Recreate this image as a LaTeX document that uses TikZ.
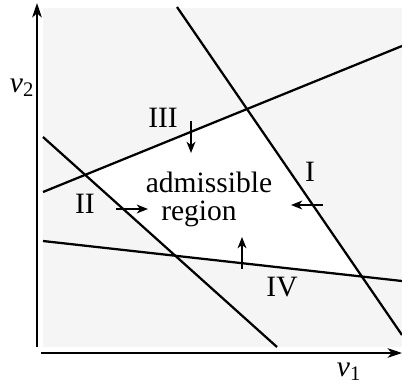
\documentclass[tikz,border=0pt]{standalone}
\usepackage{fontspec}
\setmainfont{Liberation Serif}
\usetikzlibrary{arrows.meta}
\usepackage{xcolor}
\definecolor{bgGray}{HTML}{F5F5F5}
\tikzset{
    constraint/.style={line width=1.6pt,draw=black},
    axis/.style={
        line width=1.4pt,-{Stealth[length=3.6mm,width=2.4mm,inset=1mm]}
    },
    push/.style={
        line width=1.2pt,-{Stealth[length=2.8mm,width=2.2mm,inset=0.8mm]}
    },
    lbl/.style={font=\fontsize{21}{25}\selectfont,inner sep=0pt,anchor=base}
}

\begin{document}
\begin{tikzpicture}[x=0.025cm,y=-0.025cm]

\useasboundingbox (0,0) rectangle (402,384);

% shaded plane
\fill[bgGray] (43,8) rectangle (402,347);

% ends of the four constraint lines
\coordinate (Ia) at (177,7);
\coordinate (Ib) at (402,335);
\coordinate (IIa) at (43,137);
\coordinate (IIb) at (277,347);
\coordinate (IIIa) at (43,192);
\coordinate (IIIb) at (402,46);
\coordinate (IVa) at (43,241);
\coordinate (IVb) at (402,281);

% admissible region
\fill[white]
(intersection of IIIa--IIIb and Ia--Ib) --
(intersection of Ia--Ib and IVa--IVb) --
(intersection of IVa--IVb and IIa--IIb) --
(intersection of IIa--IIb and IIIa--IIIb) -- cycle;

\draw[constraint](Ia)--(Ib);
\draw[constraint](IIa)--(IIb);
\draw[constraint](IIIa)--(IIIb);
\draw[constraint](IVa)--(IVb);

% axes
\coordinate (yfoot) at (37,347);
\coordinate (ytip) at (37,3);
\coordinate (xfoot) at (41,353);
\coordinate (xtip) at (402,353);
\draw[axis](yfoot)--(ytip);
\draw[axis](xfoot)--(xtip);

\node[lbl] (vtwo) at (22,92) {\textit{v}\textsubscript{2}};
\node[lbl] (vone) at (349,376) {\textit{v}\textsubscript{1}};

% constraint labels and arrows
\node[lbl] (labI) at (310,181) {I};
\node[lbl] (labII) at (85,213) {II};
\node[lbl] (labIII) at (163,127) {III};
\node[lbl] (labIV) at (282,296) {IV};

\coordinate (pIa) at (323,205);
\coordinate (pIb) at (291,205);
\coordinate (pIIa) at (116,209);
\coordinate (pIIb) at (148,209);
\coordinate (pIIIa) at (191,121);
\coordinate (pIIIb) at (191,153);
\coordinate (pIVa) at (242,269);
\coordinate (pIVb) at (242,237);
\draw[push](pIa)--(pIb);
\draw[push](pIIa)--(pIIb);
\draw[push](pIIIa)--(pIIIb);
\draw[push](pIVa)--(pIVb);

\node[lbl] (adm) at (209,192) {admissible};
\node[lbl] (reg) at (199,220) {region};

\end{tikzpicture}
\end{document}
